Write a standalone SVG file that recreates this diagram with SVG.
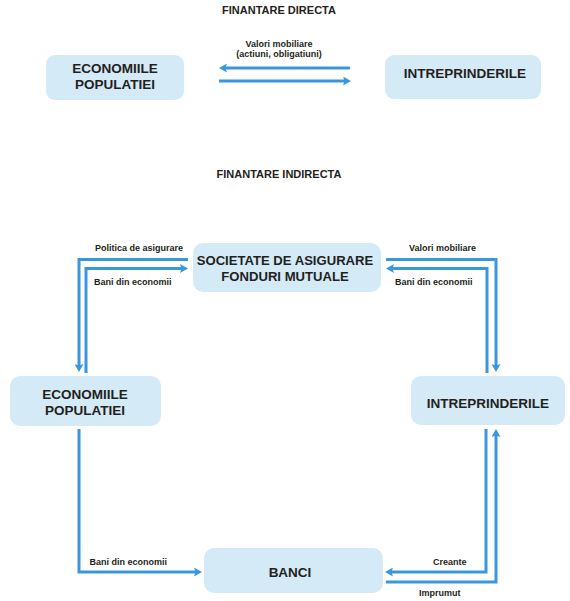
<svg xmlns="http://www.w3.org/2000/svg" width="570" height="601" viewBox="0 0 570 601">
<style>
.box{fill:#d5eaf7;stroke:none}
.nt{font-family:"Liberation Sans",Arial,sans-serif;font-weight:bold;font-size:13.5px;fill:#231f20;text-anchor:middle}
.title{font-family:"Liberation Sans",Arial,sans-serif;font-weight:bold;font-size:11px;fill:#231f20;text-anchor:middle}
.lbl{font-family:"Liberation Sans",Arial,sans-serif;font-weight:bold;font-size:9px;fill:#231f20}
.c{fill:none;stroke:#3a97dd;stroke-width:3;stroke-linejoin:miter;marker-end:url(#ah)}
.cn{fill:none;stroke:#3a97dd;stroke-width:3;stroke-linejoin:miter}
</style>
<defs>
<marker id="ah" viewBox="0 0 8 9" markerWidth="8" markerHeight="9" refX="3" refY="4.5" orient="auto" markerUnits="userSpaceOnUse">
<path d="M0,0 L8,4.5 L0,9 L1.5,4.5 z" fill="#3a97dd"/>
</marker>
</defs>
<rect width="570" height="601" fill="#ffffff"/>
<text class="title" x="279" y="13.5">FINANTARE DIRECTA</text>
<text class="title" x="279" y="178">FINANTARE INDIRECTA</text>

<g id="connectors">
<path class="c" d="M350,68 H224"/>
<path class="c" d="M219,81 H346"/>
<path class="c" d="M188,259.5 H79 V367"/>
<path class="c" d="M86,373 V268.5 H183"/>
<path class="c" d="M386,259.5 H496 V367"/>
<path class="c" d="M487,373 V268.5 H391"/>
<path class="c" d="M79,429 V572 H197"/>
<path class="c" d="M486,429 V572 H390"/>
<path class="c" d="M386,582 H496 V434"/>
<text class="lbl" x="279" y="47" text-anchor="middle">Valori mobiliare</text>
<text class="lbl" x="279" y="56.5" text-anchor="middle">(actiuni, obligatiuni)</text>
<text class="lbl" x="95" y="250.5">Politica de asigurare</text>
<text class="lbl" x="94" y="284.5">Bani din economii</text>
<text class="lbl" x="409" y="250.5">Valori mobiliare</text>
<text class="lbl" x="395" y="284.5">Bani din economii</text>
<text class="lbl" x="89.5" y="564.5">Bani din economii</text>
<text class="lbl" x="433" y="564.5">Creante</text>
<text class="lbl" x="419" y="596">Imprumut</text>
</g>

<g id="economii-top">
<rect class="box" x="46" y="55" width="138" height="45" rx="9"/>
<text class="nt" x="115" y="73.3">ECONOMIILE</text>
<text class="nt" x="115" y="89.3">POPULATIEI</text>
</g>
<g id="intreprinderi-top">
<rect class="box" x="385" y="55" width="156" height="44" rx="9"/>
<text class="nt" x="465" y="78.3">INTREPRINDERILE</text>
</g>
<g id="societate">
<rect class="box" x="193" y="243" width="188" height="49" rx="10"/>
<text class="nt" x="285" y="265" style="font-size:13.1px">SOCIETATE DE ASIGURARE</text>
<text class="nt" x="285" y="281" style="font-size:13.1px">FONDURI MUTUALE</text>
</g>
<g id="economii">
<rect class="box" x="10" y="376" width="151" height="50" rx="10"/>
<text class="nt" x="85" y="399">ECONOMIILE</text>
<text class="nt" x="85" y="415">POPULATIEI</text>
</g>
<g id="intreprinderi">
<rect class="box" x="411" y="376" width="154" height="49" rx="10"/>
<text class="nt" x="488" y="407.7">INTREPRINDERILE</text>
</g>
<g id="banci">
<rect class="box" x="204" y="548" width="179" height="45" rx="10"/>
<text class="nt" x="290" y="577.3">BANCI</text>
</g>
</svg>
